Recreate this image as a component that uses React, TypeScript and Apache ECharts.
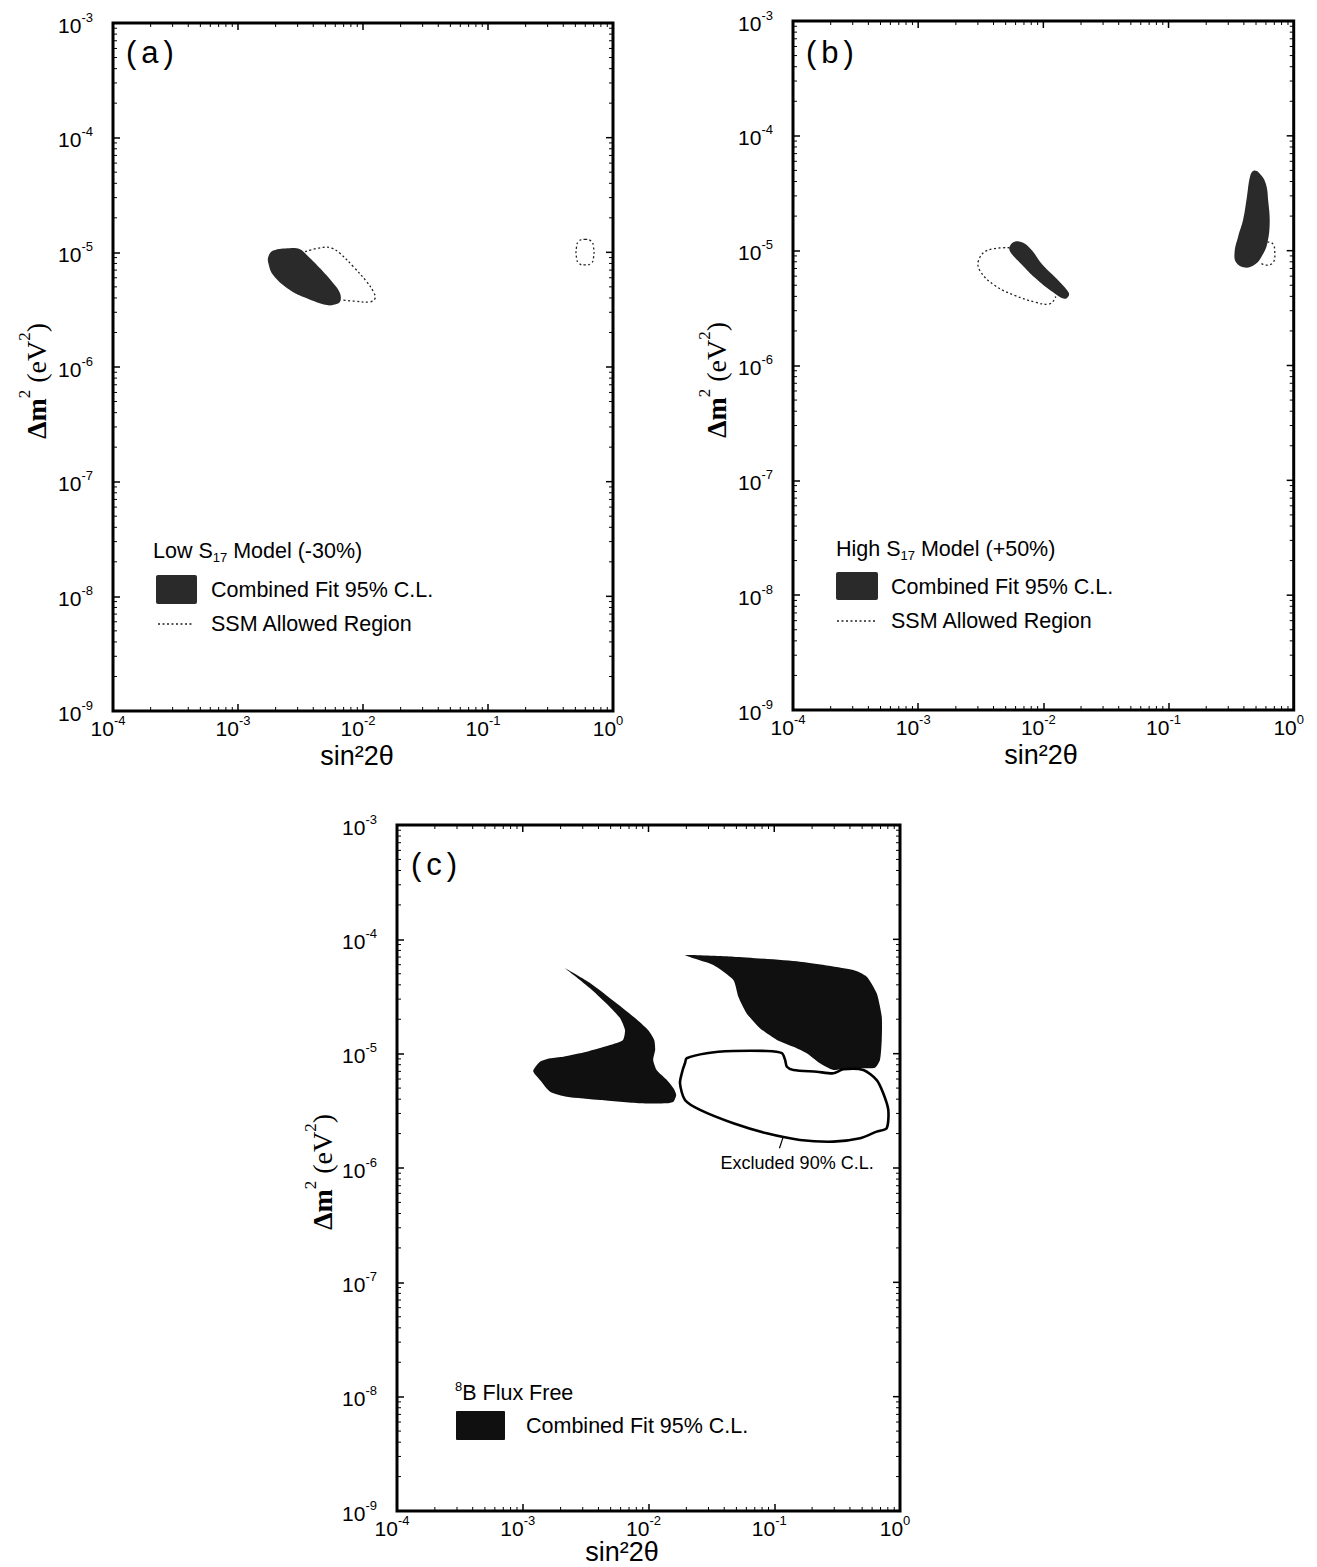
import React, { useEffect, useRef } from "react";
import * as echarts from "echarts";

const SANS = "'Liberation Sans', Arial, Helvetica, sans-serif";
const SERIF = "'Liberation Serif', 'Times New Roman', serif";

// Shared axis ranges: sin^2(2θ) and Δm^2 (eV^2)
const X_MIN = 1e-4;
const X_MAX = 1;
const Y_MIN = 1e-9;
const Y_MAX = 1e-3;

// ---- (a) Low S17 model (-30%) ----
const fitLowS17: number[][] = [
  [1.75e-3, 9.2e-6], [1.91e-3, 1.035e-5], [2.6e-3, 1.086e-5], [3.13e-3, 1.065e-5],
  [3.44e-3, 9.8e-6], [4.53e-3, 7.27e-6], [5.78e-3, 5.38e-6], [6.55e-3, 4.4e-6],
  [6.55e-3, 3.71e-6], [5.97e-3, 3.51e-6], [5.13e-3, 3.47e-6], [3.55e-3, 3.98e-6],
  [2.6e-3, 4.7e-6], [1.91e-3, 6.35e-6], [1.75e-3, 8.04e-6],
];
const ssmLowS17Main: number[][] = [
  [3.44e-3, 1.014e-5], [4.81e-3, 1.107e-5], [5.62e-3, 1.086e-5], [6.55e-3, 9.8e-6],
  [8.36e-3, 7.5e-6], [1.07e-2, 5.55e-6], [1.21e-2, 4.54e-6], [1.25e-2, 3.98e-6],
  [1.14e-2, 3.7e-6], [8.5e-3, 3.75e-6], [6.6e-3, 3.85e-6],
];
const ssmLowS17Small: number[][] = [
  [0.597, 1.296e-5], [0.667, 1.256e-5], [0.698, 1.114e-5], [0.698, 8.94e-6],
  [0.667, 8.0e-6], [0.597, 7.76e-6], [0.535, 8.0e-6], [0.511, 8.94e-6],
  [0.511, 1.114e-5], [0.535, 1.256e-5],
];

// ---- (b) High S17 model (+50%) ----
const fitHighS17Small: number[][] = [
  [5.89e-3, 1.197e-5], [6.9e-3, 1.173e-5], [8.09e-3, 1.007e-5], [9.77e-3, 7.62e-6],
  [1.26e-2, 5.78e-6], [1.57e-2, 4.44e-6], [1.6e-2, 4.08e-6], [1.47e-2, 3.81e-6],
  [1.18e-2, 4.38e-6], [8.61e-3, 5.78e-6], [6.68e-3, 7.62e-6], [5.46e-3, 9.71e-6],
  [5.36e-3, 1.078e-5],
];
const fitHighS17Large: number[][] = [
  [0.478, 4.96e-5], [0.525, 4.8e-5], [0.596, 3.89e-5], [0.627, 2.66e-5],
  [0.643, 1.75e-5], [0.615, 1.156e-5], [0.56, 9.08e-6], [0.493, 7.62e-6],
  [0.407, 7.12e-6], [0.347, 7.88e-6], [0.337, 9.71e-6], [0.36, 1.33e-5],
  [0.395, 1.88e-5], [0.421, 2.85e-5], [0.449, 4.47e-5],
];
const ssmHighS17Main: number[][] = [
  [5.36e-3, 1.06e-5], [3.56e-3, 1.007e-5], [3.03e-3, 8.18e-6], [3.13e-3, 6.64e-6],
  [4.04e-3, 5.02e-6], [5.9e-3, 4.08e-6], [8.61e-3, 3.56e-6], [1.11e-2, 3.43e-6],
  [1.24e-2, 3.81e-6], [1.25e-2, 4.0e-6],
];
const ssmHighS17Small: number[][] = [
  [0.566, 1.197e-5], [0.676, 1.156e-5], [0.706, 9.71e-6], [0.685, 7.88e-6],
  [0.596, 7.47e-6], [0.542, 7.88e-6],
];

// ---- (c) 8B flux free ----
const fitFluxFreeLeft: number[][] = [
  [2.17e-3, 5.58e-5], [3.43e-3, 4.15e-5], [5.41e-3, 2.83e-5], [7.81e-3, 2.05e-5],
  [9.91e-3, 1.61e-5], [1.11e-2, 1.32e-5], [1.13e-2, 1.08e-5], [1.09e-2, 8.8e-6],
  [1.16e-2, 7.2e-6], [1.4e-2, 5.88e-6], [1.58e-2, 4.98e-6], [1.66e-2, 4.35e-6],
  [1.58e-2, 3.8e-6], [1.4e-2, 3.68e-6], [8.56e-3, 3.68e-6], [4.12e-3, 3.93e-6],
  [2.24e-3, 4.2e-6], [1.65e-3, 4.65e-6], [1.37e-3, 5.88e-6], [1.21e-3, 7.05e-6],
  [1.37e-3, 8.51e-6], [1.65e-3, 9.11e-6], [2.1e-3, 9.41e-6], [3.22e-3, 1.04e-5],
  [4.94e-3, 1.19e-5], [6.27e-3, 1.32e-5], [6.5e-3, 1.61e-5], [5.93e-3, 2.05e-5],
  [4.76e-3, 2.67e-5], [3.55e-3, 3.61e-5], [2.6e-3, 4.78e-5],
];
const fitFluxFreeRight: number[][] = [
  [1.95e-2, 7.29e-5], [4.73e-2, 7.05e-5], [0.16, 6.37e-5], [0.425, 5.39e-5],
  [0.544, 4.71e-5], [0.653, 3.37e-5], [0.716, 2.1e-5], [0.716, 1.32e-5],
  [0.693, 8.8e-6], [0.633, 7.54e-6], [0.511, 7.45e-6], [0.377, 7.45e-6],
  [0.295, 7.2e-6], [0.231, 8.24e-6], [0.181, 1.01e-5], [0.142, 1.15e-5],
  [0.105, 1.32e-5], [7.7e-2, 1.67e-5], [6.04e-2, 2.25e-5], [5.18e-2, 3.15e-5],
  [4.73e-2, 4.41e-5], [3.28e-2, 5.96e-5], [2.27e-2, 6.83e-5],
];
const excluded90: number[][] = [
  [2.01e-2, 9.11e-6], [2.9e-2, 1.01e-5], [4.73e-2, 1.055e-5], [8.71e-2, 1.055e-5],
  [0.115, 1.01e-5], [0.122, 8.8e-6], [0.126, 7.69e-6], [0.142, 7.2e-6],
  [0.218, 6.95e-6], [0.295, 6.73e-6], [0.354, 7.3e-6], [0.511, 7.2e-6],
  [0.653, 5.88e-6], [0.736, 4.5e-6], [0.807, 3.22e-6], [0.784, 2.23e-6],
  [0.653, 2.08e-6], [0.481, 1.82e-6], [0.295, 1.7e-6], [0.16, 1.76e-6],
  [8.71e-2, 2.01e-6], [4.73e-2, 2.46e-6], [2.57e-2, 3.22e-6], [1.95e-2, 3.93e-6],
  [1.78e-2, 5.51e-6], [1.87e-2, 7.2e-6], [1.95e-2, 8.24e-6],
];
const excludedPointer: number[][] = [[0.118, 1.88e-6], [0.11, 1.49e-6]];
const excludedLabelAt: number[] = [0.152, 1.1e-6];
const excludedLabel = "Excluded 90% C.L.";

// Legend / caption texts
const panelTags = ["a", "b", "c"];
const modelTitles = [
  ["Low S", "17", " Model (-30%)"],
  ["High S", "17", " Model (+50%)"],
];
const fitLabel = "Combined Fit 95% C.L.";
const ssmLabel = "SSM Allowed Region";
const fluxFreeTitle = ["8", "B Flux Free"];
const xTitle = "sin²2θ";

// Plot rectangles of the three panels (px)
const GRIDS = [
  { left: 113, top: 23, width: 500, height: 688 },
  { left: 793, top: 21, width: 504, height: 689 },
  { left: 397, top: 825, width: 503, height: 686 },
];

const INK = "#000";
const FILL_AB = "#2a2a2a";
const FILL_C = "#101010";

// Tick labels 10^n: base aligned to the bottom of a tall line, exponent to its top
const tickRich = {
  b: { fontSize: 21, fontFamily: SANS, color: INK, lineHeight: 25, verticalAlign: "bottom" },
  s: { fontSize: 13, fontFamily: SANS, color: INK, lineHeight: 12, verticalAlign: "top" },
};
const expOf = (v: number) => Math.round(Math.log10(v));

function xAxisFor(i: number) {
  return {
    type: "log", logBase: 10, gridIndex: i, min: X_MIN, max: X_MAX, position: "bottom",
    axisLine: { show: false }, splitLine: { show: false },
    axisTick: { inside: true, length: 7, lineStyle: { color: INK, width: 1.5 } },
    axisLabel: {
      margin: 3, showMinLabel: true, showMaxLabel: true,
      formatter: (v: number) => `{b|10}{s|${expOf(v)}}`,
      rich: { b: tickRich.b, s: { ...tickRich.s, padding: [0, 10, 0, 0] } },
    },
  };
}
function yAxisFor(i: number) {
  return {
    type: "log", logBase: 10, gridIndex: i, min: Y_MIN, max: Y_MAX, splitNumber: 6,
    axisLine: { show: false }, splitLine: { show: false },
    axisTick: { inside: true, length: 7, lineStyle: { color: INK, width: 1.5 } },
    axisLabel: {
      margin: 20, showMinLabel: true, showMaxLabel: true,
      formatter: (v: number) => `{b|10}{s|${expOf(v)}}`,
      rich: tickRich,
    },
  };
}

// A filled region or a contour line drawn through the panel's log axes
function regionSeries(grid: number, pts: number[][], kind: string, style: any, smooth: number, z: number) {
  return {
    type: "custom", coordinateSystem: "cartesian2d", xAxisIndex: grid, yAxisIndex: grid,
    data: pts, silent: true, z,
    renderItem: (params: any, api: any) => {
      if (params.dataIndex !== 0) return null;
      const points = pts.map((p) => api.coord(p));
      return { type: kind, shape: { points, smooth }, style };
    },
  };
}

// Minor ticks (2..9 per decade) on all sides, plus mirrored major ticks on top/right
function tickSeries(grid: number) {
  return {
    type: "custom", coordinateSystem: "cartesian2d", xAxisIndex: grid, yAxisIndex: grid,
    data: [[X_MIN, Y_MIN]], silent: true, z: 6,
    renderItem: (params: any, api: any) => {
      const cs = params.coordSys;
      const L = cs.x, R = cs.x + cs.width, T = cs.y, B = cs.y + cs.height;
      const children: any[] = [];
      const seg = (x1: number, y1: number, x2: number, y2: number, w: number) =>
        children.push({ type: "line", shape: { x1, y1, x2, y2 }, style: { stroke: INK, lineWidth: w } });
      for (let d = expOf(X_MIN); d < expOf(X_MAX); d++) {
        for (let m = 1; m < 10; m++) {
          const px = api.coord([m * Math.pow(10, d), Y_MIN])[0];
          if (m === 1) {
            if (d > expOf(X_MIN)) seg(px, T, px, T + 7, 1.5);
          } else {
            seg(px, B, px, B - 4, 1);
            seg(px, T, px, T + 4, 1);
          }
        }
      }
      for (let d = expOf(Y_MIN); d < expOf(Y_MAX); d++) {
        for (let m = 1; m < 10; m++) {
          const py = api.coord([X_MIN, m * Math.pow(10, d)])[1];
          if (m === 1) {
            if (d > expOf(Y_MIN)) seg(R, py, R - 7, py, 1.5);
          } else {
            seg(L, py, L + 4, py, 1);
            seg(R, py, R - 4, py, 1);
          }
        }
      }
      return { type: "group", children };
    },
  };
}

const dotted = { fill: "none", stroke: "#222", lineWidth: 1.3, lineDash: [2, 2.5] };

function labelText(x: number, y: number, text: string, rich: any, extra: any = {}) {
  const { style: extraStyle, ...rest } = extra;
  return {
    type: "text", x, y, silent: true, z: 20, ...rest,
    style: { text, rich, fill: INK, fontFamily: SANS, align: "left", verticalAlign: "middle", ...(extraStyle || {}) },
  };
}

const legendRich = {
  t: { fontSize: 21.5, fontFamily: SANS, color: INK, lineHeight: 26 },
  u: { fontSize: 13, fontFamily: SANS, color: INK, lineHeight: 9, verticalAlign: "bottom" },
  p: { fontSize: 13, fontFamily: SANS, color: INK, lineHeight: 12, verticalAlign: "top" },
};
const tagRich = {
  t: { fontSize: 31, fontFamily: SANS, color: INK },
  l: { fontSize: 31, fontFamily: SANS, color: INK, padding: [0, 5, 0, 5] },
};
const dmRich = {
  d: { fontSize: 28, fontFamily: SERIF, fontWeight: "bold", color: INK, lineHeight: 34, verticalAlign: "bottom" },
  t: { fontSize: 28, fontFamily: SERIF, color: INK, lineHeight: 34, verticalAlign: "bottom" },
  p: { fontSize: 17, fontFamily: SERIF, color: INK, lineHeight: 17, verticalAlign: "top" },
};

function buildGraphics() {
  const g: any[] = [];
  const tagPos = [[126, 52], [806, 52], [411, 864]];
  panelTags.forEach((t, i) => g.push(labelText(tagPos[i][0], tagPos[i][1], `{t|(}{l|${t}}{t|)}`, tagRich)));

  const sinPos = [[357, 756], [1041, 755], [622, 1552]];
  sinPos.forEach(([x, y]) =>
    g.push({
      type: "text", x, y, silent: true, z: 20,
      style: { text: xTitle, fill: INK, fontFamily: SANS, fontSize: 27, lineHeight: 27, align: "center", verticalAlign: "middle" },
    })
  );
  const dmPos = [[33, 381], [713, 380], [319, 1172]];
  dmPos.forEach(([x, y]) =>
    g.push(labelText(x, y, "{d|Δm}{p|2}{t| (eV}{p|2}{t|)}", dmRich, { rotation: Math.PI / 2, style: { align: "center" } }))
  );

  // Legends of (a) and (b)
  const leg = [
    { x: 153, title: 551, box: [156, 575, 41, 29], fitY: 590, dashY: 624, dash: [158, 194], textX: 211 },
    { x: 836, title: 549, box: [836, 572, 42, 28], fitY: 587, dashY: 621, dash: [837, 876], textX: 891 },
  ];
  leg.forEach((l, i) => {
    const mt = modelTitles[i];
    g.push(labelText(l.x, l.title, `{t|${mt[0]}}{u|${mt[1]}}{t|${mt[2]}}`, legendRich));
    g.push({ type: "rect", z: 20, silent: true, shape: { x: l.box[0], y: l.box[1], width: l.box[2], height: l.box[3], r: 2 }, style: { fill: FILL_AB } });
    g.push(labelText(l.textX, l.fitY, `{t|${fitLabel}}`, legendRich));
    g.push({ type: "line", z: 20, silent: true, shape: { x1: l.dash[0], y1: l.dashY, x2: l.dash[1], y2: l.dashY }, style: { ...dotted } });
    g.push(labelText(l.textX, l.dashY, `{t|${ssmLabel}}`, legendRich));
  });
  // Legend of (c)
  g.push(labelText(455, 1393, `{p|${fluxFreeTitle[0]}}{t|${fluxFreeTitle[1]}}`, legendRich));
  g.push({ type: "rect", z: 20, silent: true, shape: { x: 456, y: 1411, width: 49, height: 29, r: 1 }, style: { fill: FILL_C } });
  g.push(labelText(526, 1426, `{t|${fitLabel}}`, legendRich));
  return g;
}

function buildOption() {
  const series: any[] = [];
  // (a)
  series.push(regionSeries(0, ssmLowS17Main, "polyline", dotted, 0.4, 2));
  series.push(regionSeries(0, ssmLowS17Small, "polygon", dotted, 0.5, 2));
  series.push(regionSeries(0, fitLowS17, "polygon", { fill: FILL_AB }, 0.4, 3));
  // (b)
  series.push(regionSeries(1, ssmHighS17Main, "polyline", dotted, 0.4, 2));
  series.push(regionSeries(1, ssmHighS17Small, "polyline", dotted, 0.4, 2));
  series.push(regionSeries(1, fitHighS17Small, "polygon", { fill: FILL_AB }, 0.4, 3));
  series.push(regionSeries(1, fitHighS17Large, "polygon", { fill: FILL_AB }, 0.4, 3));
  // (c)
  series.push(regionSeries(2, fitFluxFreeLeft, "polygon", { fill: FILL_C }, 0.2, 3));
  series.push(regionSeries(2, fitFluxFreeRight, "polygon", { fill: FILL_C }, 0.2, 3));
  series.push(regionSeries(2, excluded90, "polygon", { fill: "none", stroke: INK, lineWidth: 2.6 }, 0.25, 4));
  series.push(regionSeries(2, excludedPointer, "polyline", { fill: "none", stroke: INK, lineWidth: 1.2 }, 0, 4));
  series.push({
    type: "custom", coordinateSystem: "cartesian2d", xAxisIndex: 2, yAxisIndex: 2,
    data: [excludedLabelAt], silent: true, z: 4,
    renderItem: (_p: any, api: any) => {
      const [x, y] = api.coord(excludedLabelAt);
      return {
        type: "text", x, y,
        style: { text: excludedLabel, fill: INK, fontFamily: SANS, fontSize: 18, align: "center", verticalAlign: "middle" },
      };
    },
  });
  GRIDS.forEach((_g, i) => series.push(tickSeries(i)));

  return {
    animation: false,
    backgroundColor: "#fff",
    grid: GRIDS.map((g) => ({ ...g, show: true, borderColor: INK, borderWidth: 3, backgroundColor: "transparent" })),
    xAxis: GRIDS.map((_g, i) => xAxisFor(i)),
    yAxis: GRIDS.map((_g, i) => yAxisFor(i)),
    series,
    graphic: buildGraphics(),
  };
}

export default function App() {
  const ref = useRef<HTMLDivElement>(null);
  useEffect(() => {
    if (!ref.current) return;
    const chart = echarts.init(ref.current, undefined, { renderer: "svg" });
    chart.setOption(buildOption() as any);
    return () => chart.dispose();
  }, []);
  return (
    <div
      ref={ref}
      style={{ position: "absolute", left: 0, top: 0, width: 1317, height: 1567, background: "#fff" }}
    />
  );
}
